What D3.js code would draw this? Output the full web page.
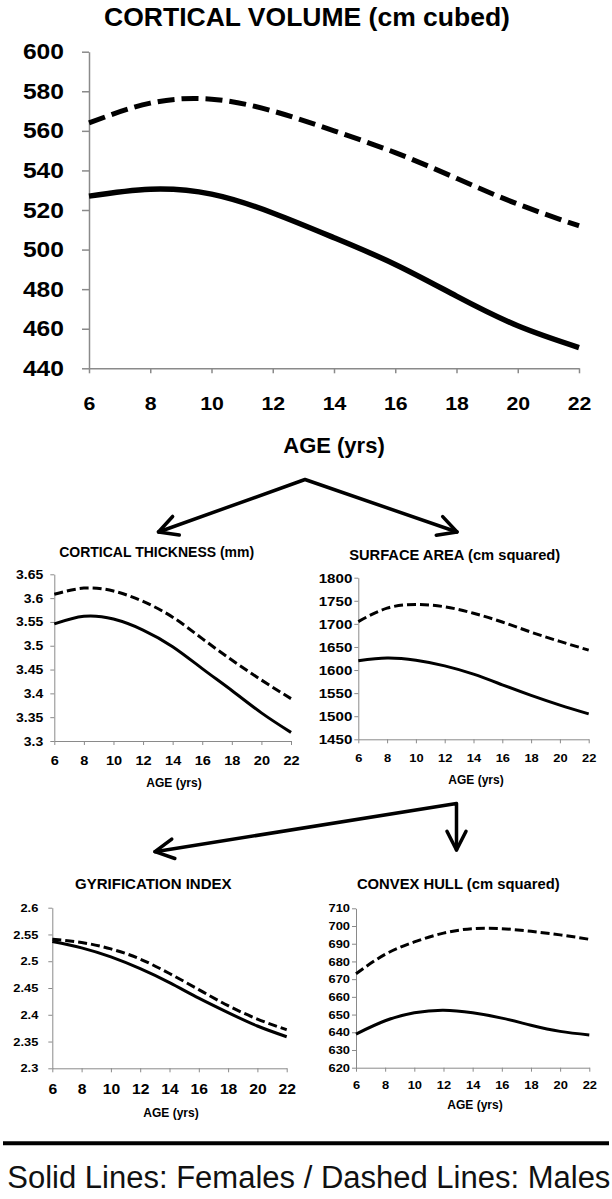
<!DOCTYPE html>
<html>
<head>
<meta charset="utf-8">
<script src="https://cdn.jsdelivr.net/npm/d3@7"></script>
<style>
  html, body { margin: 0; padding: 0; background: #fff; }
  svg { display: block; }
</style>
</head>
<body>
<svg id="chart" width="612" height="1199"></svg>
<script>
// ---------------- DATA ----------------
const ages = [6, 8, 10, 12, 14, 16, 18, 20, 22];
const ageTicks = [6, 8, 10, 12, 14, 16, 18, 20, 22];

const volumeFemales = [527, 530.5, 528, 518.5, 506, 492.5, 476.5, 461.5, 450.5];
const volumeMales   = [564, 574, 576, 570, 560, 549, 536, 523, 512];
const volumeTicks   = [440, 460, 480, 500, 520, 540, 560, 580, 600];

const thicknessFemales = [3.546, 3.562, 3.556, 3.533, 3.498, 3.452, 3.406, 3.359, 3.318];
const thicknessMales   = [3.608, 3.621, 3.615, 3.593, 3.560, 3.515, 3.470, 3.428, 3.389];
const thicknessTicks   = [3.3, 3.35, 3.4, 3.45, 3.5, 3.55, 3.6, 3.65];

const areaFemales = [1620, 1626, 1621, 1609, 1591, 1568, 1545, 1524, 1505];
const areaMales   = [1705, 1734, 1742, 1737, 1723, 1704, 1682, 1662, 1643];
const areaTicks   = [1450, 1500, 1550, 1600, 1650, 1700, 1750, 1800];

const gyriFemales = [2.537, 2.525, 2.508, 2.486, 2.460, 2.431, 2.404, 2.379, 2.359];
const gyriMales   = [2.541, 2.535, 2.523, 2.504, 2.477, 2.447, 2.417, 2.392, 2.372];
const gyriTicks   = [2.3, 2.35, 2.4, 2.45, 2.5, 2.55, 2.6];

const hullFemales = [639, 646.5, 651, 652.5, 651, 648, 644, 640.5, 638.5];
const hullMales   = [673, 684, 691, 696, 698.5, 698.5, 697, 695, 692.5];
const hullTicks   = [620, 630, 640, 650, 660, 670, 680, 690, 700, 710];

const titles = ["CORTICAL VOLUME (cm cubed)", "CORTICAL THICKNESS (mm)", "SURFACE AREA (cm squared)",
                "GYRIFICATION INDEX", "CONVEX HULL (cm squared)"];
const xAxisLabel = "AGE (yrs)";
const legendText = "Solid Lines: Females / Dashed Lines: Males";

// ---------------- PANELS (data + layout) ----------------
const fmtNum = d => String(+d.toFixed(2));
const panels = [
  { title: titles[0], females: volumeFemales, males: volumeMales, yTicks: volumeTicks,
    x0: 89, x1: 579, yTop: 51.7, yBot: 368.3,
    titleX: 307, titleY: 26, titleSize: 26.5,
    yFont: 22, xFont: 19, yTick: 7, yPad: 18, xTick: 5, xLabY: 35,
    ageX: 334, ageY: 453, ageSize: 22,
    axisW: 1.5, solidW: 5.5, dashW: 5, dash: "17,7" },
  { title: titles[1], females: thicknessFemales, males: thicknessMales, yTicks: thicknessTicks,
    x0: 54.3, x1: 291, yTop: 574.3, yBot: 741,
    titleX: 156.7, titleY: 556.7, titleSize: 14,
    yFont: 12.5, xFont: 13, yTick: 4, yPad: 7, xTick: 4, xLabY: 19,
    ageX: 174, ageY: 787, ageSize: 12,
    axisW: 1, solidW: 3, dashW: 3, dash: "9,4" },
  { title: titles[2], features: null, females: areaFemales, males: areaMales, yTicks: areaTicks,
    x0: 358.3, x1: 588.7, yTop: 577.7, yBot: 739.3,
    titleX: 454.7, titleY: 560.3, titleSize: 14.7,
    yFont: 13.5, xFont: 11.5, yTick: 4, yPad: 2, xTick: 4, xLabY: 19,
    ageX: 476, ageY: 783.6, ageSize: 12,
    axisW: 1, solidW: 3, dashW: 3, dash: "9,4" },
  { title: titles[3], females: gyriFemales, males: gyriMales, yTicks: gyriTicks,
    x0: 52.3, x1: 286.7, yTop: 907.7, yBot: 1068.3,
    titleX: 153.3, titleY: 888.7, titleSize: 15,
    yFont: 11.5, xFont: 14, yTick: 4, yPad: 10, xTick: 4, xLabY: 21,
    ageX: 171, ageY: 1117, ageSize: 12,
    axisW: 1, solidW: 3, dashW: 3, dash: "9,4" },
  { title: titles[4], females: hullFemales, males: hullMales, yTicks: hullTicks,
    x0: 356, x1: 589.3, yTop: 908.3, yBot: 1067.7,
    titleX: 458.3, titleY: 888.6, titleSize: 14.8,
    yFont: 11.5, xFont: 11.5, yTick: 4, yPad: 2, xTick: 4, xLabY: 17.5,
    ageX: 475, ageY: 1109.3, ageSize: 12,
    axisW: 1, solidW: 3, dashW: 3, dash: "9,4" }
];

// ---------------- DRAW ----------------
const svg = d3.select("#chart");
svg.append("rect").attr("width", 612).attr("height", 1199).attr("fill", "#fff");

const AXIS_COLOR = "#8a8a8a";
const LABEL_FONT = "'Liberation Sans', Arial, sans-serif";
const STRETCH = 1.12;   // tick labels in the source are slightly wide

panels.forEach(p => {
  const x = d3.scaleLinear().domain(d3.extent(ageTicks)).range([p.x0, p.x1]);
  const y = d3.scaleLinear().domain(d3.extent(p.yTicks)).range([p.yBot, p.yTop]);
  const g = svg.append("g");

  // y axis
  const ya = g.append("g").attr("transform", `translate(${p.x0},0)`)
    .call(d3.axisLeft(y).tickValues(p.yTicks).tickSize(p.yTick).tickSizeOuter(0)
      .tickPadding(p.yPad).tickFormat(fmtNum));
  ya.selectAll("path, line").attr("stroke", AXIS_COLOR).attr("stroke-width", p.axisW);
  ya.selectAll("text").attr("fill", "#000")
    .attr("x", -(p.yTick + p.yPad) / STRETCH).attr("transform", `scale(${STRETCH},1)`)
    .style("font-family", LABEL_FONT).style("font-weight", "bold").style("font-size", p.yFont + "px");

  // x axis
  const xa = g.append("g").attr("transform", `translate(0,${p.yBot})`)
    .call(d3.axisBottom(x).tickValues(ageTicks).tickSize(p.xTick).tickSizeOuter(0).tickFormat(d3.format("d")));
  xa.selectAll("path, line").attr("stroke", AXIS_COLOR).attr("stroke-width", p.axisW);
  xa.selectAll("text").attr("fill", "#000").attr("y", p.xLabY).attr("dy", "0.36em")
    .attr("transform", `scale(${STRETCH},1)`)
    .style("font-family", LABEL_FONT).style("font-weight", "bold").style("font-size", p.xFont + "px");

  // lines
  const line = vals => d3.line().x((d, i) => x(ages[i])).y(d => y(d)).curve(d3.curveNatural)(vals);
  g.append("path").attr("d", line(p.males)).attr("fill", "none").attr("stroke", "#000")
    .attr("stroke-width", p.dashW).attr("stroke-dasharray", p.dash);
  g.append("path").attr("d", line(p.females)).attr("fill", "none").attr("stroke", "#000")
    .attr("stroke-width", p.solidW);

  // title
  g.append("text").attr("x", p.titleX).attr("y", p.titleY).attr("text-anchor", "middle")
    .style("font-family", LABEL_FONT).style("font-weight", "bold").style("font-size", p.titleSize + "px")
    .text(p.title);
  // x axis label
  g.append("text").attr("x", p.ageX).attr("y", p.ageY).attr("text-anchor", "middle")
    .style("font-family", LABEL_FONT).style("font-weight", "bold").style("font-size", p.ageSize + "px")
    .text(xAxisLabel);
});

// ---------------- ARROWS ----------------
function arrowHead(tip, from, len, angDeg) {
  const dx = from[0] - tip[0], dy = from[1] - tip[1];
  const a = Math.atan2(dy, dx), t = angDeg * Math.PI / 180;
  const p1 = [tip[0] + len * Math.cos(a + t), tip[1] + len * Math.sin(a + t)];
  const p2 = [tip[0] + len * Math.cos(a - t), tip[1] + len * Math.sin(a - t)];
  return `M${p1[0]},${p1[1]}L${tip[0]},${tip[1]}L${p2[0]},${p2[1]}`;
}
const arrowStyle = s => s.attr("fill", "none").attr("stroke", "#000").attr("stroke-width", 3.5)
  .attr("stroke-linejoin", "round").attr("stroke-linecap", "round");

const apex1 = [305, 479.5], tipL1 = [158.5, 532], tipR1 = [457, 532];
svg.append("path").attr("d", `M${tipL1}L${apex1}L${tipR1}`).call(arrowStyle);
svg.append("path").attr("d", arrowHead(tipL1, apex1, 21, 28)).call(arrowStyle);
svg.append("path").attr("d", arrowHead(tipR1, apex1, 21, 28)).call(arrowStyle);

const corner2 = [456.5, 803.5], tipL2 = [155, 851.7], tipD2 = [456.5, 850];
svg.append("path").attr("d", `M${tipL2}L${corner2}L${tipD2}`).call(arrowStyle);
svg.append("path").attr("d", arrowHead(tipL2, corner2, 21, 28)).call(arrowStyle);
svg.append("path").attr("d", arrowHead(tipD2, corner2, 21, 27)).call(arrowStyle);

// ---------------- RULE + LEGEND ----------------
svg.append("line").attr("x1", 3).attr("x2", 609).attr("y1", 1143.3).attr("y2", 1143.3)
  .attr("stroke", "#000").attr("stroke-width", 4);
svg.append("text").attr("x", 7.3).attr("y", 1188.3)
  .style("font-family", LABEL_FONT).style("font-size", "31px").attr("fill", "#111")
  .text(legendText);
</script>
</body>
</html>
